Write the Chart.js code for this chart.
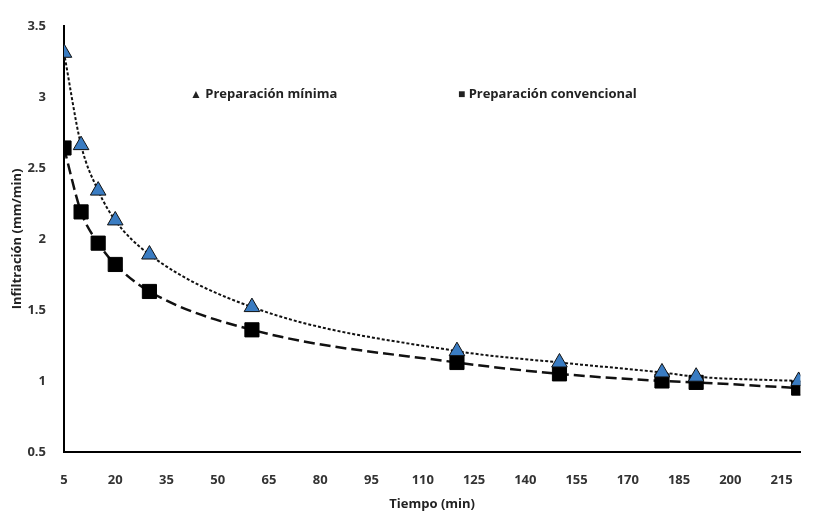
<!DOCTYPE html>
<html>
<head>
<meta charset="utf-8">
<script src="https://cdn.jsdelivr.net/npm/chart.js@4/dist/chart.umd.min.js"></script>
<style>
  html, body { margin: 0; padding: 0; background: #fff; }
  #wrap { position: relative; width: 813px; height: 516px; }
  .leg { position: absolute; font: bold 13px "Open Sans", sans-serif; color: #222; white-space: nowrap; }
  .leg span { font-size: 12px; }
</style>
</head>
<body>
<div id="wrap">
  <canvas id="chart" width="813" height="516"></canvas>
  <div class="leg" style="left:190px; top:84px;"><span>&#9650;</span> Preparación mínima</div>
  <div class="leg" style="left:458px; top:84px;"><span>&#9632;</span> Preparación convencional</div>
</div>
<script>
// temps de mesure (min)
const tiempo = [5, 10, 15, 20, 30, 60, 120, 150, 180, 190, 220]
// infiltration mesurée (mm/min)
const minima = [3.31, 2.66, 2.34, 2.13, 1.89, 1.52, 1.21, 1.13, 1.06, 1.03, 1.00]
const convencional = [2.64, 2.19, 1.97, 1.82, 1.63, 1.36, 1.13, 1.05, 1.00, 0.99, 0.95]
// graduations de l'axe x
const xTicks = [5, 20, 35, 50, 65, 80, 95, 110, 125, 140, 155, 170, 185, 200, 215]

const toPoints = (arr) => arr.map((v, i) => ({x: tiempo[i], y: v}))

const fontTick = {family: '"Open Sans", sans-serif', size: 13, weight: 'bold'}

const config = {
    type: 'line',
    data: {
        datasets: [
            {
                label: 'Preparación mínima',
                data: toPoints(minima),
                showLine: false,
                pointStyle: 'triangle',
                pointRadius: 9,
                pointBackgroundColor: '#3a7cc2',
                pointBorderColor: '#111',
                pointBorderWidth: 1,
                order: 1
            },
            {
                label: 'Preparación convencional',
                data: toPoints(convencional),
                showLine: false,
                pointStyle: 'rect',
                pointRadius: 10,
                pointBackgroundColor: '#000',
                pointBorderColor: '#000',
                order: 1
            },
            // courbes de tendance
            {
                label: 'tendencia mínima',
                data: toPoints(minima),
                borderColor: '#111',
                borderWidth: 2,
                borderDash: [3, 2],
                pointRadius: 0,
                cubicInterpolationMode: 'monotone',
                order: 2
            },
            {
                label: 'tendencia convencional',
                data: toPoints(convencional),
                borderColor: '#111',
                borderWidth: 2.5,
                borderDash: [11, 5],
                pointRadius: 0,
                cubicInterpolationMode: 'monotone',
                order: 2
            }
        ]
    },
    options: {
        responsive: false,
        animation: false,
        layout: {padding: {top: 18, right: 0, left: 0, bottom: 0}},
        plugins: {
            legend: {display: false},
            tooltip: {enabled: false}
        },
        scales: {
            x: {
                type: 'linear',
                min: 5,
                max: 220.5,
                afterBuildTicks: (s) => { s.ticks = xTicks.map(v => ({value: v})) },
                afterFit: (s) => { s.height = 64 },
                grid: {display: false, drawTicks: false},
                border: {color: '#000', width: 2},
                ticks: {color: '#333', font: fontTick, padding: 20, maxRotation: 0, autoSkip: false},
                title: {display: true, text: 'Tiempo (min)', color: '#222', font: fontTick, padding: {top: 2}}
            },
            y: {
                min: 0.5,
                max: 3.5,
                afterFit: (s) => { s.width = 64 },
                grid: {display: false, drawTicks: false},
                border: {color: '#000', width: 2},
                ticks: {stepSize: 0.5, color: '#333', font: fontTick, padding: 18,
                        callback: (v) => String(v)},
                title: {display: true, text: 'Infiltración (mm/min)', color: '#222', font: fontTick, padding: {top: 9, bottom: 0}}
            }
        }
    }
};

const chartOne = new Chart(document.getElementById('chart'), config);
</script>
</body>
</html>
